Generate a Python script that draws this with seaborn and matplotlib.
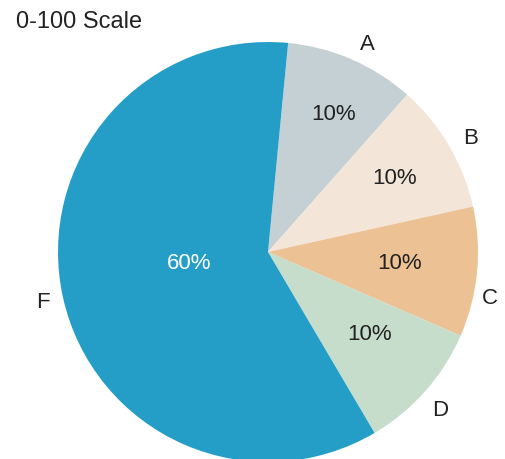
import numpy as np
import matplotlib
matplotlib.use('Agg')
import matplotlib.pyplot as plt
import seaborn as sns

# 데이터
labels = ['A', 'B', 'C', 'D', 'F']
values = [10, 10, 10, 10, 60]
colors = ['#c5d0d4', '#f3e6d8', '#ecc194', '#c6ddcc', '#249ec7']
title = '0-100 Scale'

sns.set_style('white')
plt.rcParams['font.family'] = ['Liberation Sans', 'DejaVu Sans']

fig = plt.figure(figsize=(5.06, 4.6), dpi=100)
ax = fig.add_axes([0, 0, 1, 1])

wedges, texts, autotexts = ax.pie(values, labels=labels, colors=colors,
                                  startangle=84.5, counterclock=False,
                                  autopct='%d%%', pctdistance=0.68,
                                  labeldistance=1.1,
                                  wedgeprops={'linewidth': 0},
                                  textprops={'fontsize': 16, 'color': '#222222'})

# 퍼센트 / 라벨 위치 조정 (반지름 비율, 각도 보정)
pct_r = [0.73, 0.70, 0.63, 0.62, 0.38]
pct_da = [-2, 0, 1, 3, -5]
lab_r = [1.10, 1.11, 1.08, 1.11, 1.10]
lab_da = [-2, -1, -6, -1, 0]
for w, t, at, pr, pd_, lr, ld in zip(wedges, texts, autotexts, pct_r, pct_da, lab_r, lab_da):
    mid = (w.theta1 + w.theta2) / 2
    a = np.deg2rad(mid + pd_)
    at.set_position((pr * np.cos(a), pr * np.sin(a)))
    at.set_ha('center')
    a = np.deg2rad(mid + ld)
    t.set_position((lr * np.cos(a), lr * np.sin(a)))
    t.set_ha('center')
    t.set_va('center')
autotexts[-1].set_color('white')

ax.set_xlim(-268 / 210, (506 - 268) / 210)
ax.set_ylim(-(460 - 253) / 210, 253 / 210)
ax.set_aspect('equal')
ax.axis('off')

fig.text(16 / 506, 1 - 22 / 460, title, fontsize=17, color='#222222',
         ha='left', va='center')

fig.savefig('out.png', dpi=100)
